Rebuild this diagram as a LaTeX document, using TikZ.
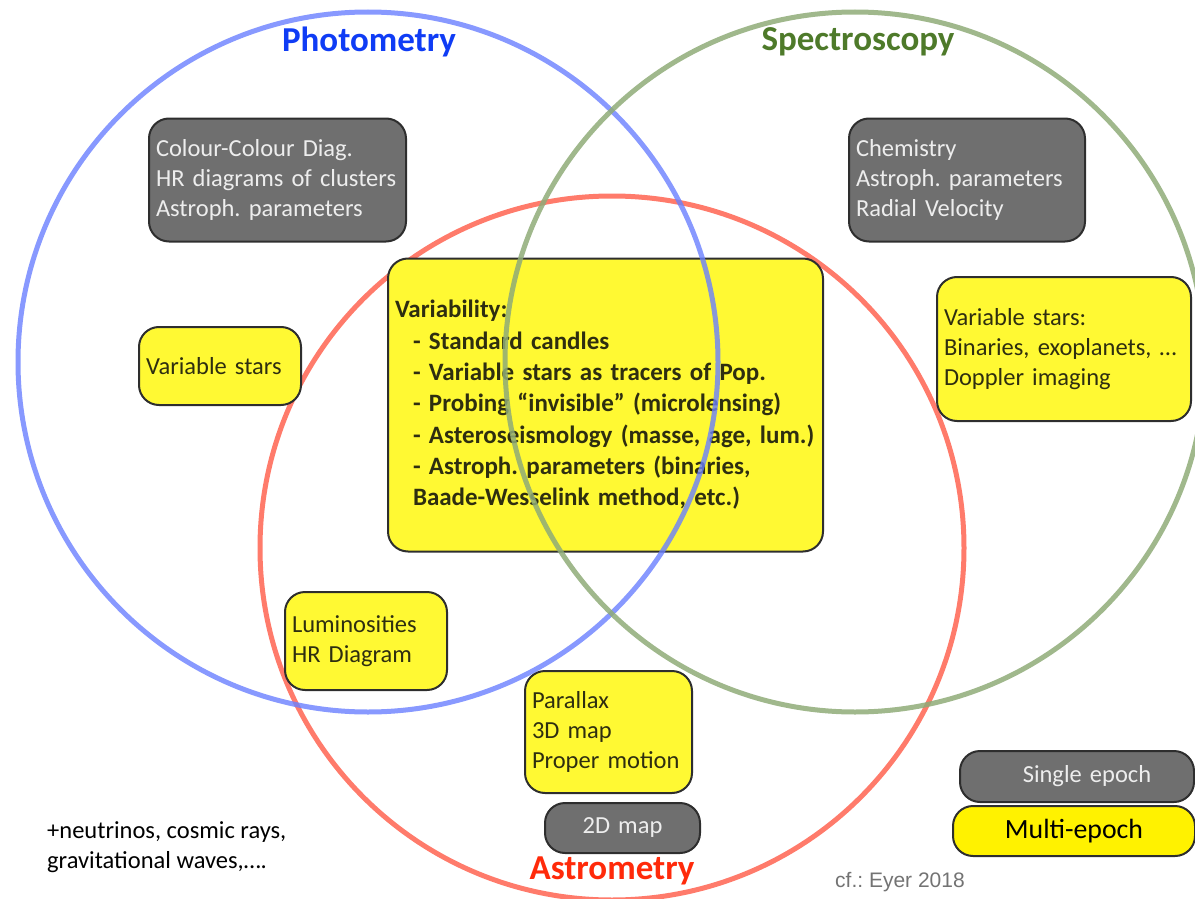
\documentclass[tikz,border=0pt]{standalone}
\usepackage{fontspec}
\setmainfont{Carlito}
\newfontfamily\arialfont{Liberation Sans}
\usepackage{tikz}
\frenchspacing

\definecolor{photblue}{HTML}{6A80FF}
\definecolor{phottitle}{HTML}{0F3CF5}
\definecolor{spectgreen}{HTML}{8FAB78}
\definecolor{specttitle}{HTML}{4E7A2A}
\definecolor{astrored}{HTML}{FF7B6B}
\definecolor{astrotitle}{HTML}{FF2A0A}
\definecolor{boxyellow}{HTML}{FFF933}
\definecolor{boxgrey}{HTML}{6F6F6F}
\definecolor{boxline}{HTML}{2E2E2E}
\definecolor{boxtext}{HTML}{2E2E10}

\begin{document}
\begin{tikzpicture}[x=1pt, y=-1pt,
    every node/.style={font=\fontsize{24.5}{30}\selectfont},
    box/.style={draw=boxline, line width=2pt, rounded corners=20pt, inner xsep=7pt, inner ysep=0pt, align=left},
    multibox/.style={box, fill=boxyellow, text=boxtext},
    singlebox/.style={box, fill=boxgrey, text=white!93!black},
    ring/.style={line width=5pt},
    title/.style={font=\fontsize{35}{40}\selectfont\bfseries}]
    \useasboundingbox (0,0) rectangle (1195,899);

    % astrometry circle sits under the boxes
    \draw[ring, astrored] (612,548) circle [radius=352pt];

    \node[singlebox, text width=243pt, minimum height=123pt] (colour) at (277.5,180)
        {Colour-Colour Diag.\\HR diagrams of clusters\\Astroph. parameters};
    \node[singlebox, text width=222pt, minimum height=123pt] (chem) at (967,180)
        {Chemistry\\Astroph. parameters\\Radial Velocity};
    \node[multibox, text width=148pt, minimum height=78pt] (varphot) at (220,366) {Variable stars};
    \node[multibox, text width=421pt, minimum height=293pt,
          font=\fontsize{25}{31.3}\selectfont\bfseries] (var) at (605.5,405)
        {Variability:\\
         \hspace*{18pt}- Standard candles\\
         \hspace*{18pt}- Variable stars as tracers of Pop.\\
         \hspace*{18pt}- Probing “invisible” (microlensing)\\
         \hspace*{18pt}- Asteroseismology (masse, age, lum.)\\
         \hspace*{18pt}- Astroph. parameters (binaries,\\
         \hspace*{18pt}Baade-Wesselink method, etc.)};
    \node[multibox, text width=240pt, minimum height=144pt] (varspec) at (1064,349)
        {Variable stars:\\Binaries, exoplanets, …\\Doppler imaging};
    \node[multibox, text width=148pt, minimum height=98pt] (lum) at (366,641)
        {Luminosities\\HR Diagram};
    \node[multibox, text width=153pt, minimum height=122pt] (plx) at (608.5,732)
        {Parallax\\3D map\\Proper motion};
    \node[singlebox, align=center, text width=141pt, minimum height=50pt] (map) at (622.5,828) {2D map};

    % photometry and spectroscopy circles over the boxes
    \draw[ring, photblue, opacity=0.8] (368,362) circle [radius=350pt];
    \draw[ring, spectgreen, opacity=0.85] (855,362) circle [radius=350pt];

    % legend
    \node[singlebox, align=center, text width=220pt, minimum height=51pt] (single) at (1077,776.5) {\hspace*{20pt}Single epoch};
    \node[multibox, fill=yellow, text=black, align=center, text width=228pt, minimum height=50pt,
          font=\fontsize{27.8}{30}\selectfont] (multi) at (1074,831) {Multi-epoch};

    \node[title, text=phottitle] (phot) at (369,42) {Photometry};
    \node[title, text=specttitle] (spec) at (858,42) {Spectroscopy};
    \node[title, text=astrotitle] (astro) at (612,871) {Astrometry};

    \node[anchor=west, align=left, inner sep=0pt] (other) at (47,847)
        {+neutrinos, cosmic rays,\\gravitational waves,….};
    \node[font=\fontsize{21}{24}\arialfont, text=black!55, inner sep=0pt] (cite) at (900,882) {cf.: Eyer 2018};
\end{tikzpicture}
\end{document}
